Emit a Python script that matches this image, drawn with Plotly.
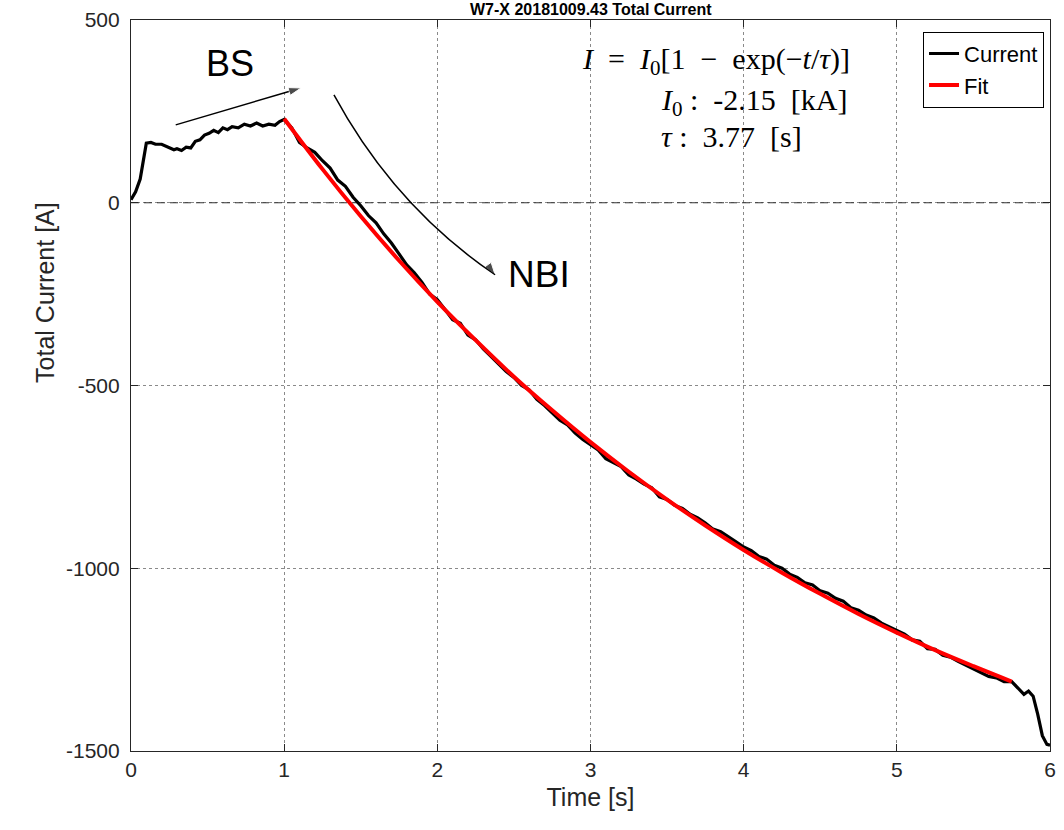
import plotly.graph_objects as go

# ---- data ----
t_pre = [0.00, 0.03, 0.06, 0.08, 0.10, 0.13, 0.16, 0.20, 0.24, 0.28, 0.30, 0.33, 0.36, 0.39,
         0.42, 0.45, 0.48, 0.51, 0.54, 0.57, 0.60, 0.63, 0.66, 0.70, 0.74, 0.78, 0.82, 0.86,
         0.90, 0.94, 0.97]
i_pre = [8, 30, 65, 120, 163, 165, 160, 160, 152, 145, 148, 143, 152, 150,
         168, 172, 185, 190, 198, 192, 205, 200, 208, 205, 215, 210, 218, 210,
         215, 212, 222]

t_main = [round(1.0 + 0.05 * k, 2) for k in range(96)]
i_main = [228, 205, 165, 150, 138, 115, 95, 62, 45, 15,
          -8, -35, -55, -85, -110, -140, -170, -192, -218, -250,
          -265, -292, -320, -330, -362, -375, -400, -420, -440, -462,
          -478, -500, -512, -538, -555, -575, -595, -608, -630, -648,
          -662, -676, -700, -712, -722, -745, -756, -770, -780, -805,
          -812, -828, -836, -852, -862, -876, -893, -900, -915, -928,
          -942, -952, -968, -975, -992, -1000, -1016, -1025, -1040, -1046,
          -1062, -1068, -1082, -1090, -1108, -1115, -1128, -1136, -1150, -1160,
          -1172, -1180, -1196, -1200, -1220, -1222, -1238, -1243, -1255, -1265,
          -1275, -1284, -1296, -1300, -1310, -1310]

t_post = [5.80, 5.83, 5.86, 5.89, 5.92, 5.95, 5.98, 6.00]
i_post = [-1330, -1345, -1336, -1350, -1400, -1458, -1482, -1484]

t_fit = [1.00, 1.25, 1.50, 1.75, 2.00, 2.25, 2.50, 2.75, 3.00, 3.25, 3.50, 3.75, 4.00,
         4.25, 4.50, 4.75, 5.00, 5.25, 5.50, 5.75]
i_fit = [230, 92, -37, -158, -271, -376, -476, -568, -655, -736, -812, -883, -950,
         -1012, -1070, -1125, -1176, -1224, -1268, -1310]

x_ticks = [0, 1, 2, 3, 4, 5, 6]
y_ticks = [500, 0, -500, -1000, -1500]

title_text = "W7-X 20181009.43 Total Current"

t_cur = t_pre + t_main + t_post
i_cur = i_pre + i_main + i_post

SANS = "Liberation Sans, Arial, Helvetica, sans-serif"
SERIF = "Liberation Serif, Times New Roman, serif"
NB = "\u00a0"

fig = go.Figure()
fig.add_trace(go.Scatter(x=t_cur, y=i_cur, mode="lines", name="Current",
                         line=dict(color="black", width=3.2)))
fig.add_trace(go.Scatter(x=t_fit, y=i_fit, mode="lines", name="Fit",
                         line=dict(color="red", width=4, shape="spline")))

# zero line (dashed)
fig.add_shape(type="line", xref="x", yref="y", x0=0, x1=6, y0=0, y1=0,
              line=dict(color="#333333", width=1.2, dash="8px,5px"), layer="below")

# straight BS arrow (line + arrowhead marker)
fig.add_trace(go.Scatter(x=[0.292, 1.11], y=[213, 314], mode="lines+markers",
                         line=dict(color="black", width=1.5),
                         marker=dict(symbol="arrow", angleref="previous", size=[0, 13],
                                     color="black"),
                         showlegend=False, hoverinfo="skip"))
# curved NBI arrow
fig.add_shape(type="path", xref="x", yref="y",
              path="M 1.325,295 Q 1.721,-11 2.377,-197",
              line=dict(color="black", width=1.5))
fig.add_trace(go.Scatter(x=[2.30, 2.377], y=[-152, -197], mode="markers",
                         marker=dict(symbol="arrow", angleref="previous", size=[0, 13],
                                     color="black"),
                         showlegend=False, hoverinfo="skip"))

fig.add_annotation(x=0.646, y=380, text="BS", showarrow=False,
                   font=dict(family=SANS, size=36, color="black"))
fig.add_annotation(x=2.665, y=-197, text="NBI", showarrow=False,
                   font=dict(family=SANS, size=37, color="black"))

# equation text
S2 = NB + NB
fig.add_annotation(x=3.818, y=388, showarrow=False,
                   text=f"<i>I</i>{S2}={S2}<i>I</i><sub>0</sub>[1{NB}{NB}−{NB}{NB}exp(−<i>t</i>/<i>τ</i>)]",
                   font=dict(family=SERIF, size=30, color="black"))
fig.add_annotation(x=3.448, y=276, xanchor="left", showarrow=False,
                   text=f"<i>I</i><sub>0</sub>{NB}:{NB}{NB}-2.15{S2}[kA]",
                   font=dict(family=SERIF, size=30, color="black"))
fig.add_annotation(x=3.448, y=180, xanchor="left", showarrow=False,
                   text=f"<i>τ</i>{NB}:{NB}{NB}3.77{S2}[s]",
                   font=dict(family=SERIF, size=30, color="black"))

# title
fig.add_annotation(x=0.5, y=1, xref="paper", yref="paper", yanchor="bottom",
                   yshift=0, showarrow=False,
                   text="<b>" + title_text + "</b>",
                   font=dict(family=SANS, size=16, color="black"))

# y axis title (placed as in the reference)
fig.add_annotation(x=-0.111, y=0.628, xref="paper", yref="paper", showarrow=False,
                   textangle=-90, text="Total Current [A]",
                   font=dict(family=SANS, size=25, color="#262626"))

axis_common = dict(showline=True, linecolor="#262626", linewidth=1.2, mirror="ticks",
                   ticks="inside", ticklen=7, tickcolor="#262626",
                   showgrid=True, gridcolor="rgba(60,60,60,0.6)", griddash="dot",
                   gridwidth=1, zeroline=False,
                   tickfont=dict(family=SANS, size=21, color="#262626"))

fig.update_xaxes(range=[0, 6], tickvals=x_ticks, ticktext=[str(v) for v in x_ticks],
                 title=dict(text="Time [s]", font=dict(family=SANS, size=25, color="#262626"),
                            standoff=8),
                 **axis_common)
fig.update_yaxes(range=[-1500, 500], tickvals=y_ticks, ticktext=[str(v) for v in y_ticks],
                 ticklabelstandoff=6,
                 **axis_common)

fig.update_layout(
    width=1064, height=830,
    margin=dict(l=131, r=8, t=20, b=79),
    paper_bgcolor="white", plot_bgcolor="white",
    showlegend=True,
    legend=dict(x=0.9935, y=0.984, xanchor="right", yanchor="top",
                bgcolor="white", bordercolor="black", borderwidth=1,
                font=dict(family=SANS, size=22, color="black"),
                itemwidth=30, tracegroupgap=0),
)

fig.write_html("out.html")
